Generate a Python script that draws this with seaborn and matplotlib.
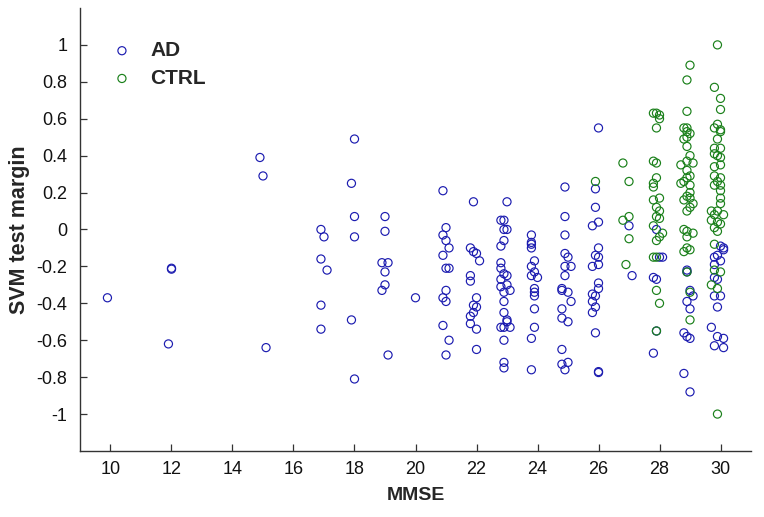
import pandas as pd
import matplotlib
matplotlib.use("Agg")
import matplotlib.pyplot as plt
import seaborn as sns
from matplotlib.ticker import FuncFormatter

# MMSE score and SVM test margin
ad_mmse = [
    9.9, 12.0, 12.0, 11.9,
    14.9, 15.0, 15.1,
    16.9, 17.0, 16.9, 17.1, 16.9, 16.9,
    18.0, 17.9, 18.0, 18.0, 17.9, 18.0,
    19.0, 19.0, 18.9, 19.1, 19.0, 19.0, 18.9, 19.1,
    20.0,
    20.9, 21.0, 20.9, 21.0, 21.1, 20.9, 21.0, 21.1, 21.0, 20.9, 21.0, 20.9, 21.1, 21.0,
    21.9, 21.8, 21.9, 22.0, 22.1, 21.8, 21.8, 22.0, 21.9, 22.0, 21.9, 21.8, 21.8, 22.0, 22.0,
    23.0, 22.8, 22.9, 22.9, 23.0, 22.9, 22.8, 22.8, 22.8, 22.9, 23.0, 22.8, 23.0, 22.8,
    23.1, 22.9, 22.9, 22.9, 23.0, 23.0, 22.8, 22.9, 23.1, 22.9, 22.9, 22.9,
    23.8, 23.8, 23.8, 23.8, 23.9, 23.8, 23.9, 23.8, 24.0, 23.9, 23.9, 23.9, 23.9, 23.9,
    23.8, 23.8,
    24.9, 24.9, 24.9, 24.9, 25.0, 24.9, 25.1, 24.9, 24.8, 24.8, 25.0, 25.1, 24.8, 24.8,
    25.0, 24.8, 24.8, 25.0, 24.9,
    26.0, 25.9, 25.9, 25.8, 26.0, 26.0, 25.9, 26.0, 26.0, 25.8, 26.0, 26.0, 25.8, 25.9,
    25.8, 25.9, 25.8, 25.9, 26.0, 26.0,
    27.0, 27.1,
    27.9, 28.0, 28.1, 27.8, 27.9, 27.9, 27.8,
    28.9, 28.9, 29.0, 29.1, 28.9, 29.0, 28.8, 28.9, 29.0, 28.8, 29.0,
    30.0, 30.1, 30.1, 29.8, 29.9, 30.0, 29.8, 29.8, 29.9, 29.8, 30.0, 29.9, 29.7, 29.9,
    30.1, 29.8, 30.1,
]
ad_margin = [
    -0.37, -0.21, -0.215, -0.62,
    0.39, 0.29, -0.64,
    0.00, -0.04, -0.16, -0.22, -0.41, -0.54,
    0.49, 0.25, 0.07, -0.04, -0.49, -0.81,
    0.07, -0.01, -0.18, -0.18, -0.23, -0.30, -0.33, -0.68,
    -0.37,
    0.21, 0.01, -0.03, -0.06, -0.10, -0.14, -0.21, -0.21, -0.33, -0.37, -0.39, -0.52, -0.60, -0.68,
    0.15, -0.10, -0.12, -0.13, -0.17, -0.25, -0.28, -0.37, -0.41, -0.42, -0.45, -0.47, -0.51, -0.54, -0.65,
    0.15, 0.05, 0.05, 0.00, 0.00, -0.06, -0.09, -0.18, -0.21, -0.24, -0.25, -0.27, -0.30, -0.31,
    -0.33, -0.34, -0.39, -0.45, -0.49, -0.50, -0.53, -0.53, -0.53, -0.60, -0.72, -0.75,
    -0.03, -0.07, -0.08, -0.10, -0.17, -0.20, -0.23, -0.25, -0.26, -0.32, -0.34, -0.36, -0.43, -0.53,
    -0.59, -0.76,
    0.23, 0.07, -0.03, -0.13, -0.15, -0.20, -0.20, -0.25, -0.32, -0.33, -0.34, -0.39, -0.43, -0.48,
    -0.50, -0.65, -0.73, -0.72, -0.76,
    0.55, 0.22, 0.12, 0.02, 0.04, -0.10, -0.14, -0.15, -0.19, -0.20, -0.29, -0.32, -0.35, -0.36,
    -0.39, -0.42, -0.45, -0.56, -0.77, -0.775,
    0.02, -0.25,
    0.00, -0.15, -0.15, -0.26, -0.27, -0.55, -0.67,
    -0.22, -0.23, -0.33, -0.36, -0.39, -0.43, -0.56, -0.58, -0.59, -0.78, -0.88,
    -0.09, -0.10, -0.11, -0.15, -0.14, -0.17, -0.19, -0.26, -0.27, -0.36, -0.36, -0.42, -0.53, -0.58,
    -0.59, -0.63, -0.64,
]

ctrl_mmse = [
    25.9,
    26.8, 27.0, 26.8, 27.0, 27.0, 26.9,
    27.8, 27.9, 28.0, 28.0, 27.9, 27.8, 27.9, 27.9, 27.8, 27.8, 28.0, 27.8, 27.9, 28.0,
    27.9, 28.0, 27.8, 28.1, 28.0, 27.9, 27.8, 27.9, 27.9, 28.0, 27.9,
    29.0, 28.9, 28.9, 28.8, 28.9, 28.9, 29.0, 28.8, 28.9, 28.9, 29.0, 28.9, 29.1, 28.7,
    28.9, 29.0, 28.9, 28.7, 28.8, 29.0, 29.0, 28.9, 29.0, 28.8, 29.1, 29.0, 28.9, 28.8,
    28.9, 29.1, 28.9, 28.9, 29.0, 28.8, 28.9, 29.0, 29.0,
    29.9, 29.8, 30.0, 30.0, 29.9, 29.8, 30.0, 30.0, 29.9, 29.8, 30.0, 29.8, 29.9, 30.0,
    30.0, 29.8, 29.8, 30.0, 29.9, 29.8, 30.0, 30.0, 30.0, 30.0, 29.7, 29.9, 29.8, 30.1,
    29.7, 29.9, 30.0, 29.8, 29.9, 29.8, 30.0, 29.8, 29.7, 29.9, 29.9,
]
ctrl_margin = [
    0.26,
    0.36, 0.26, 0.05, 0.07, -0.05, -0.19,
    0.63, 0.63, 0.62, 0.60, 0.55, 0.37, 0.36, 0.28, 0.25, 0.23, 0.17, 0.16, 0.12, 0.10,
    0.07, 0.06, 0.02, -0.02, -0.04, -0.06, -0.15, -0.15, -0.33, -0.40, -0.55,
    0.89, 0.81, 0.64, 0.55, 0.55, 0.53, 0.52, 0.49, 0.50, 0.45, 0.40, 0.37, 0.36, 0.35,
    0.32, 0.29, 0.28, 0.25, 0.26, 0.24, 0.20, 0.18, 0.17, 0.16, 0.14, 0.12, 0.10, 0.00,
    -0.01, -0.02, -0.04, -0.10, -0.11, -0.12, -0.23, -0.34, -0.49,
    1.00, 0.77, 0.71, 0.65, 0.57, 0.55, 0.54, 0.53, 0.49, 0.44, 0.44, 0.41, 0.40, 0.39,
    0.35, 0.34, 0.29, 0.28, 0.26, 0.24, 0.24, 0.21, 0.17, 0.14, 0.10, 0.10, 0.08, 0.08,
    0.05, 0.04, 0.03, 0.01, -0.01, -0.08, -0.23, -0.22, -0.30, -0.32, -1.00,
]

groups = ["AD", "CTRL"]
colors = {"AD": "#1c1cb0", "CTRL": "#1a801a"}

df = pd.concat([
    pd.DataFrame({"MMSE": ad_mmse, "margin": ad_margin, "group": "AD"}),
    pd.DataFrame({"MMSE": ctrl_mmse, "margin": ctrl_margin, "group": "CTRL"}),
])

sns.set_style("ticks")
plt.rcParams["font.family"] = ["Liberation Sans", "DejaVu Sans"]
plt.rcParams["axes.unicode_minus"] = False

fig = plt.figure(figsize=(7.64, 5.17), dpi=100)
ax = fig.add_axes([0.1047, 0.1277, 0.8783, 0.8569])

for g in groups:
    sub = df[df["group"] == g]
    sns.scatterplot(x="MMSE", y="margin", data=sub, ax=ax, color=colors[g],
                    facecolor="none", edgecolor=colors[g], s=34, linewidth=0.85,
                    label=g, zorder=3)

ax.set_xlim(9, 31)
ax.set_ylim(-1.2, 1.2)
ax.set_xticks(range(10, 31, 2))
ax.set_yticks([-1, -0.8, -0.6, -0.4, -0.2, 0, 0.2, 0.4, 0.6, 0.8, 1])
ax.yaxis.set_major_formatter(FuncFormatter(lambda v, p: "%g" % round(v, 1)))
ax.tick_params(direction="in", length=5, width=0.9, color="#333333",
               labelsize=13, labelcolor="#111111")
ax.tick_params(axis="x", pad=7)
ax.tick_params(axis="y", pad=9)
for side in ["top", "right"]:
    ax.spines[side].set_visible(False)
for side in ["left", "bottom"]:
    ax.spines[side].set_color("#333333")
    ax.spines[side].set_linewidth(1.0)

ax.set_xlabel("MMSE", fontsize=14, fontweight="bold", labelpad=7)
ax.set_ylabel("SVM test margin", fontsize=15.5, fontweight="bold", labelpad=5)

leg = ax.legend(loc="upper left", bbox_to_anchor=(0.047, 0.925), frameon=False,
                prop={"size": 15, "weight": "bold"}, handlelength=1.0,
                handletextpad=0.85, labelspacing=0.42, borderaxespad=0,
                borderpad=0)

plt.savefig("out.png", dpi=100)
